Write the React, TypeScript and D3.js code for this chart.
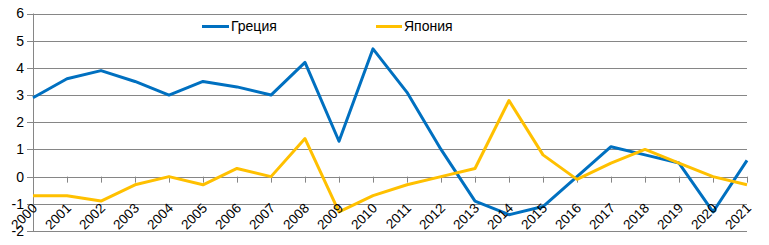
import React from "react";
import * as d3 from "d3";

const years = ["2000","2001","2002","2003","2004","2005","2006","2007","2008","2009","2010","2011","2012","2013","2014","2015","2016","2017","2018","2019","2020","2021"];
const greece = [2.9,3.6,3.9,3.5,3.0,3.5,3.3,3.0,4.2,1.3,4.7,3.1,1.0,-0.9,-1.4,-1.1,0.0,1.1,0.8,0.5,-1.3,0.6];
const japan = [-0.7,-0.7,-0.9,-0.3,0.0,-0.3,0.3,0.0,1.4,-1.3,-0.7,-0.3,0.0,0.3,2.8,0.8,-0.1,0.5,1.0,0.5,0.0,-0.3];
const yTicks = [-2,-1,0,1,2,3,4,5,6];
const seriesNames = ["Греция", "Япония"];

const W = 769, H = 245;
const left = 33, right = 747, top = 13.5, bottom = 231;
const font = "'Liberation Sans', Arial, sans-serif";

export default function App() {
  const x = d3.scalePoint<string>().domain(years).range([left, right]);
  const y = d3.scaleLinear().domain([-2, 6]).range([bottom, top]);
  const line = d3.line<number>().x((_, i) => x(years[i]) as number).y(d => y(d));
  const grid = "#868686";
  return (
    <div style={{ position: "fixed", left: 0, top: 0 }}>
      <svg width={W} height={H} style={{ display: "block", background: "#fff" }} fontFamily={font}>
        {yTicks.map(t => (
          <g key={t}>
            <line x1={left - 6} x2={right} y1={Math.round(y(t)) + 0.5} y2={Math.round(y(t)) + 0.5} stroke={grid} strokeWidth={1} />
            <text x={24} y={y(t)} dy="0.35em" textAnchor="end" fontSize={14} fill="#000">{t}</text>
          </g>
        ))}
        <line x1={left + 0.5} x2={left + 0.5} y1={y(6)} y2={y(-2)} stroke={grid} />
        {years.map(yr => (
          <line key={"t" + yr} x1={Math.round(x(yr) as number) + 0.5} x2={Math.round(x(yr) as number) + 0.5} y1={y(0)} y2={y(0) + 6} stroke={grid} />
        ))}
        <path d={line(greece) || ""} fill="none" stroke="#0070C0" strokeWidth={3} strokeLinejoin="round" />
        <path d={line(japan) || ""} fill="none" stroke="#FFC000" strokeWidth={3} strokeLinejoin="round" />
        {years.map(yr => (
          <text key={"l" + yr} transform={`translate(${(x(yr) as number) + 5},${209}) rotate(-45)`} textAnchor="end" fontSize={13.5} fill="#000">{yr}</text>
        ))}
        <line x1={202} x2={229} y1={26.5} y2={26.5} stroke="#0070C0" strokeWidth={3} />
        <text x={231} y={26.5} dy="0.35em" fontSize={14} fill="#000">{seriesNames[0]}</text>
        <line x1={376} x2={402} y1={26.5} y2={26.5} stroke="#FFC000" strokeWidth={3} />
        <text x={404} y={26.5} dy="0.35em" fontSize={14} fill="#000">{seriesNames[1]}</text>
      </svg>
    </div>
  );
}
